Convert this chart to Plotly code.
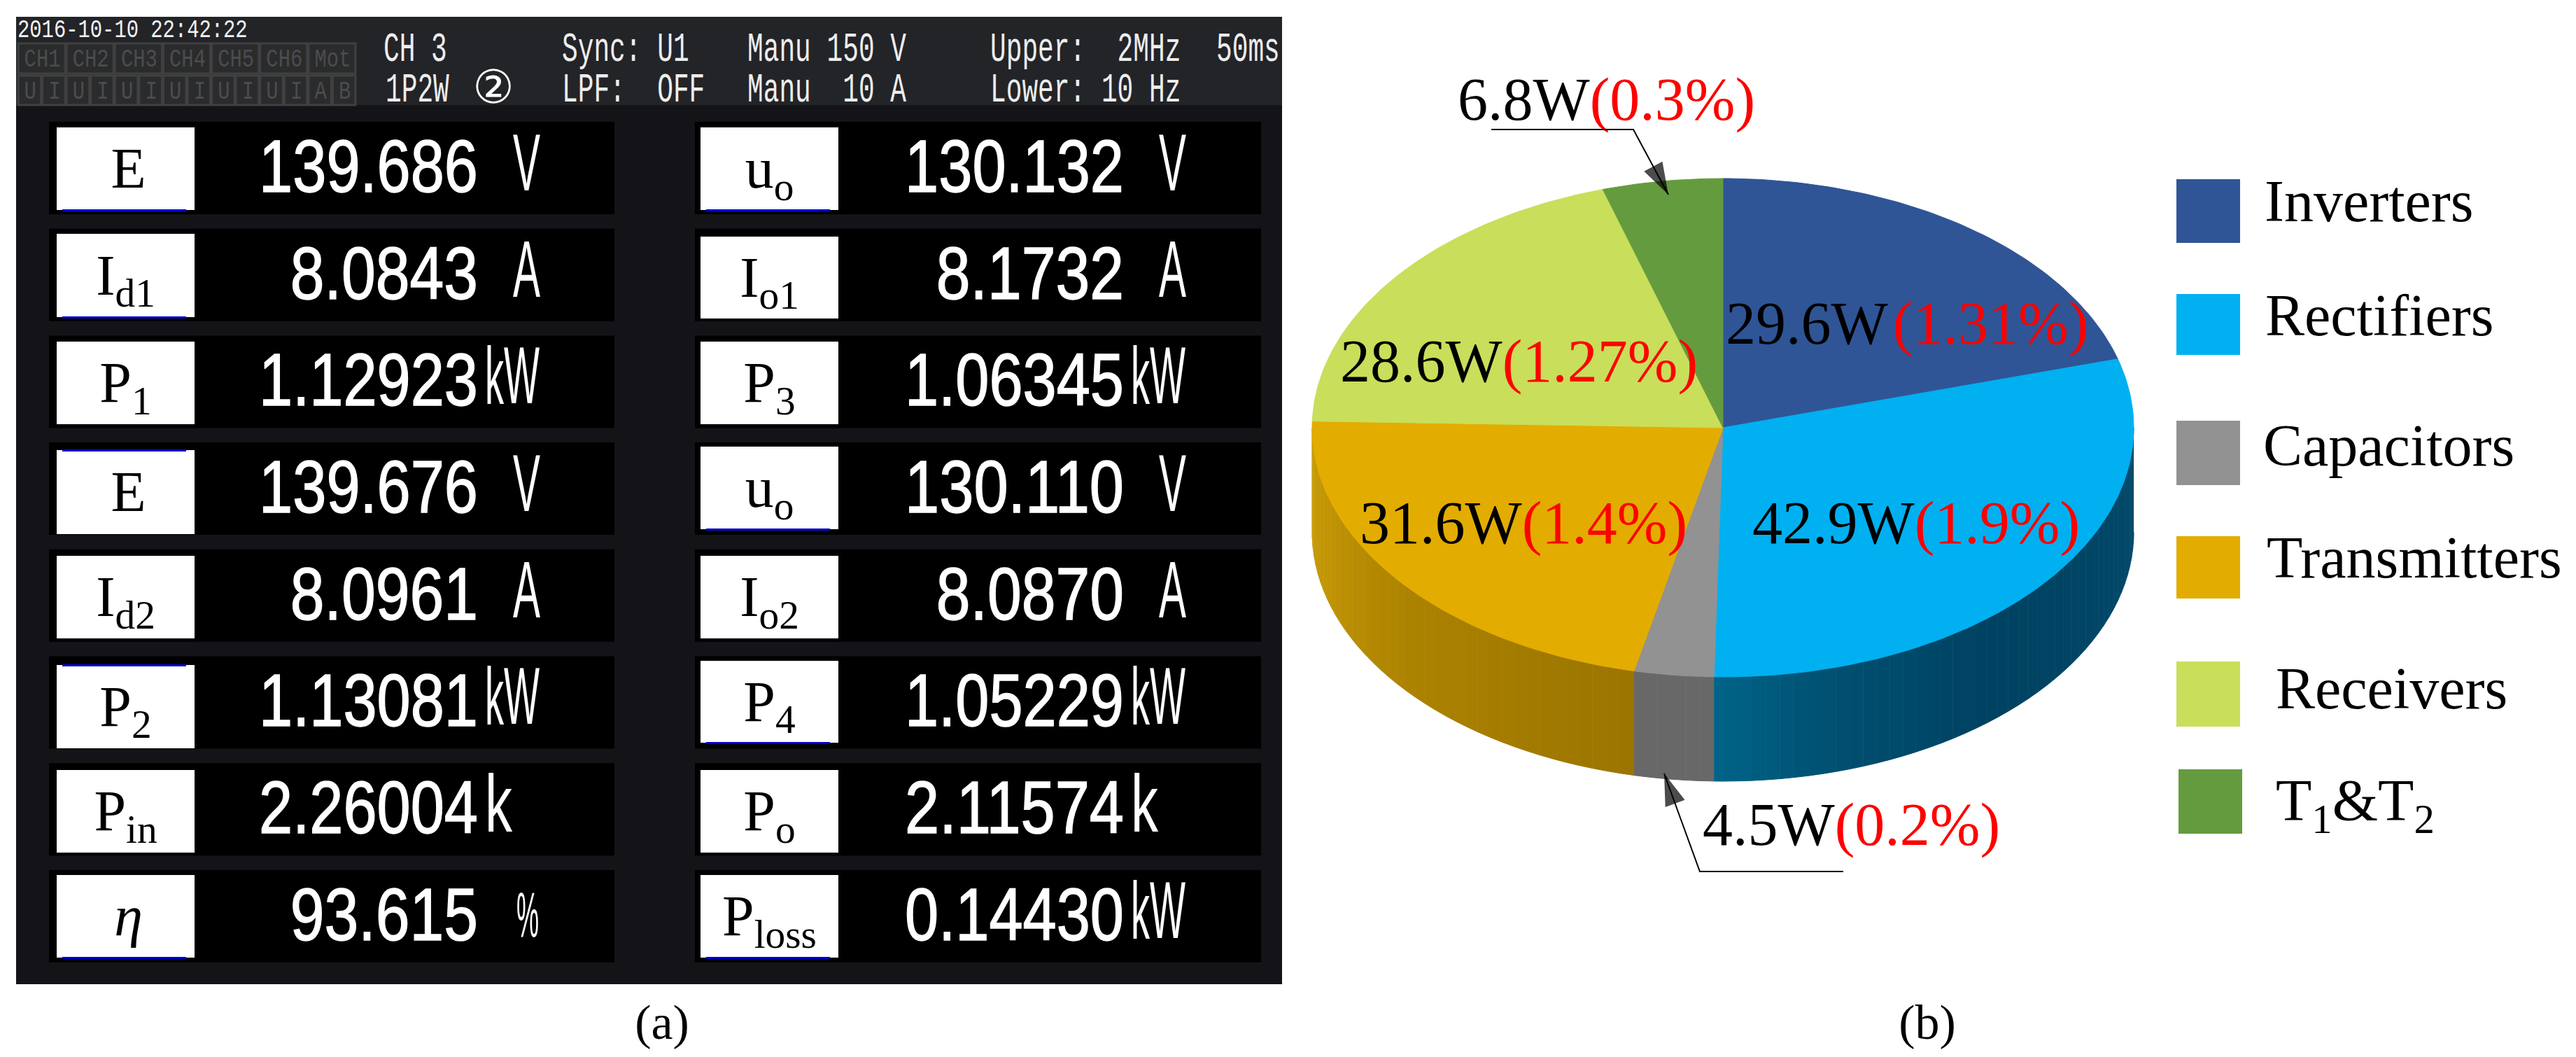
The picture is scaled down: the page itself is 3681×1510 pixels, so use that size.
import json
import numpy as np
import plotly.graph_objects as go

# ---- panel (b) data ----
categories = ["Inverters", "Rectifiers", "Capacitors", "Transmitters", "Receivers", "T<sub>1</sub>&T<sub>2</sub>"]
watts = [29.6, 42.9, 4.5, 31.6, 28.6, 6.8]
percents = ["1.31%", "1.9%", "0.2%", "1.4%", "1.27%", "0.3%"]
top_colors = ["#2F5597", "#00B0F0", "#929292", "#E3AC00", "#C9DE5A", "#659B3F"]

# ---- panel (a) data ----
left_labels = ["E", "I<sub>d1</sub>", "P<sub>1</sub>", "E", "I<sub>d2</sub>", "P<sub>2</sub>", "P<sub>in</sub>", "<i>η</i>"]
left_values = ["139.686", "8.0843", "1.12923", "139.676", "8.0961", "1.13081", "2.26004", "93.615"]
left_units = ["V", "A", "kW", "V", "A", "kW", "k", "%"]
right_labels = ["u<sub>o</sub>", "I<sub>o1</sub>", "P<sub>3</sub>", "u<sub>o</sub>", "I<sub>o2</sub>", "P<sub>4</sub>", "P<sub>o</sub>", "P<sub>loss</sub>"]
right_values = ["130.132", "8.1732", "1.06345", "130.110", "8.0870", "1.05229", "2.11574", "0.14430"]
right_units = ["V", "A", "kW", "V", "A", "kW", "k", "kW"]
header_texts = [
    ("CH 3", 548, 88), ("1P2W", 551, 146), ("Sync: U1", 803, 88), ("LPF:  OFF", 803, 146),
    ("Manu 150 V", 1068, 88), ("Manu  10 A", 1068, 146), ("Upper:  2MHz", 1415, 88),
    ("Lower: 10 Hz", 1415, 146), ("50ms", 1738, 88),
]
timestamp = "2016-10-10 22:42:22"
channel_tabs = ["CH1", "CH2", "CH3", "CH4", "CH5", "CH6", "Mot"]
signal_tabs = ["U", "I", "U", "I", "U", "I", "U", "I", "U", "I", "U", "I", "A", "B"]

W, H = 3681, 1510
SERIF = "Liberation Serif"
SANS = "Liberation Sans"
MONO = "Liberation Mono"
# the instrument's screen font is tall and narrow: advance width per character, by font size
CELL_WIDTH = {SANS: {105: 44.7, 115: 39, 90: 32}, MONO: {60: 22.7, 37: 17.3}}
fig = go.Figure()
shapes = []


def rect(x0, y0, x1, y1, fill, line=None, lw=0):
    shapes.append(dict(type="rect", x0=x0, y0=y0, x1=x1, y1=y1, fillcolor=fill, layer="below",
                       line=dict(color=line or fill, width=lw)))


def text(x, baseline, s, size, color="black", family=SERIF, anchor="left"):
    pos = {"left": "middle right", "right": "middle left", "center": "middle center"}[anchor]
    fig.add_trace(go.Scatter(x=[x], y=[baseline - 0.27 * size], mode="text", text=[s], textposition=pos,
                             textfont=dict(family=family, size=size, color=color),
                             hoverinfo="skip", showlegend=False, cliponaxis=False))


# ---- panel (a) ----
rect(23, 24, 1832, 1406, "#131318")
rect(23, 24, 1832, 150, "#232428")
text(25, 54, timestamp, 37, "#f2f2f2", MONO)
tab_w = (510 - 26) / len(channel_tabs)
for i, t in enumerate(channel_tabs):
    rect(26 + i * tab_w, 62, 26 + (i + 1) * tab_w - 2, 105, "#2a2b2d", "#404040", 3)
    text(26 + (i + 0.5) * tab_w, 96, t, 37, "#4c4c4c", MONO, "center")
tab_w = (510 - 26) / len(signal_tabs)
for i, t in enumerate(signal_tabs):
    rect(26 + i * tab_w, 108, 26 + (i + 1) * tab_w - 2, 150, "#2a2b2d", "#404040", 3)
    text(26 + (i + 0.5) * tab_w, 142, t, 37, "#4c4c4c", MONO, "center")
for s, x, b in header_texts:
    text(x, b, s, 60, "#ededed", MONO)
text(705, 148, "②", 66, "#ffffff", "DejaVu Sans", "center")

PITCH = 152.7
left_boxes = [(182, 300), (334, 453), (488, 606), (643, 763), (794, 912), (950, 1069), (1100, 1218), (1250, 1368)]
right_boxes = [(182, 300), (338, 455), (488, 606), (638, 756), (794, 912), (944, 1061), (1100, 1218), (1250, 1368)]
left_blue = {0: "b", 1: "b", 3: "t", 5: "t", 7: "b"}
right_blue = {0: "b", 3: "b", 5: "b", 7: "b"}
cols = [
    (70, 878, 81, 278, 683, 733, 693, left_labels, left_values, left_units, left_boxes, left_blue),
    (993, 1802, 1001, 1198, 1606, 1656, 1616, right_labels, right_values, right_units, right_boxes, right_blue),
]
for sx0, sx1, bx0, bx1, vx, ux, kx, labs, vals, units, boxes, blue in cols:
    for r in range(8):
        top = 174 + r * PITCH
        rect(sx0, top, sx1, top + 132, "#000000")
        y0, y1 = boxes[r]
        rect(bx0, y0, bx1, y1, "#ffffff")
        if r in blue:
            by = y1 if blue[r] == "b" else y0
            rect(bx0 + 8, by - 1, bx1 - 12, by + 2, "#0000d0")
        lab = labs[r]
        cx = (bx0 + bx1) / 2 + (4 if "sub" not in lab else 0)
        text(cx, (y0 + y1) / 2 + 29, lab, 82, "black", SERIF, "center")
        text(vx, top + 102, vals[r], 105, "#ffffff", SANS, "right")
        u = units[r]
        if u in ("kW", "k"):
            text(kx, top + 99, u, 115, "#ffffff", SANS)
        elif u == "%":
            text(ux + 5, top + 97, u, 90, "#ffffff", SANS)
        else:
            text(ux, top + 100, u, 115, "#ffffff", SANS)

text(946, 1485, "(a)", 70, "black", SERIF, "center")
text(2754, 1485, "(b)", 70, "black", SERIF, "center")

# ---- panel (b): tilted pie built from the values ----
CX, CY, RX, RY, DEPTH = 2462, 611, 587, 356, 149
fractions = np.array(watts) / sum(watts)
edges = np.concatenate([[0], np.cumsum(fractions)]) * 360.0
side_stops = {
    1: ([90, 140, 165, 181], ["#034a6b", "#004262", "#005072", "#006488"]),
    2: ([181, 193], ["#686868", "#686868"]),
    3: ([192, 230, 255, 272], ["#9b7500", "#ad8300", "#c39506", "#c9a00c"]),
}


def hex2rgb(h):
    return [int(h[i:i + 2], 16) for i in (1, 3, 5)]


def arc(a0, a1, n=None):
    n = n or max(2, int(abs(a1 - a0)) + 2)
    t = np.radians(np.linspace(a0, a1, n))
    return CX + RX * np.sin(t), CY - RY * np.cos(t)


for i, (xs, cs) in side_stops.items():
    a0, a1 = max(edges[i], 90), min(edges[i + 1], 270)
    steps = np.arange(a0, a1, 2.0).tolist() + [a1]
    for s0, s1 in zip(steps[:-1], steps[1:]):
        mid = (s0 + s1) / 2
        rgb = [np.interp(mid, xs, [hex2rgb(c)[k] for c in cs]) for k in range(3)]
        col = "rgb(%d,%d,%d)" % tuple(rgb)
        ax, ay = arc(s0, s1, 4)
        fig.add_trace(go.Scatter(x=np.concatenate([ax, ax[::-1]]), y=np.concatenate([ay, ay[::-1] + DEPTH]),
                                 mode="lines", fill="toself", fillcolor=col, line=dict(color=col, width=1),
                                 hoverinfo="skip", showlegend=False))

for i, c in enumerate(top_colors):
    ax, ay = arc(edges[i], edges[i + 1])
    fig.add_trace(go.Scatter(x=np.concatenate([[CX], ax, [CX]]), y=np.concatenate([[CY], ay, [CY]]),
                             mode="lines", fill="toself", fillcolor=c, line=dict(color=c, width=1),
                             name=categories[i], hoverinfo="skip", showlegend=False))

# slice labels: value in black, percentage in red
label_pos = {0: (2466, 493), 1: (2504, 778), 2: (2433, 1209), 3: (1943, 778), 4: (1915, 547), 5: (2083, 173)}
gaps = {0: "\u200a"}
for i, (x, b) in label_pos.items():
    s = f'{watts[i]}W{gaps.get(i, "")}<span style="color:#ff0000">({percents[i]})</span>'
    text(x, b, s, 86)

# leader lines with arrow heads
leaders = [([2131, 2334, 2384], [185, 185, 278]), ([2634, 2429, 2378], [1245, 1245, 1105])]
for lx, ly in leaders:
    fig.add_trace(go.Scatter(x=lx, y=ly, mode="lines+markers", line=dict(color="black", width=2),
                             marker=dict(symbol="arrow", size=[0, 0, 48], color="black", angleref="previous",
                                         line=dict(width=0)),
                             hoverinfo="skip", showlegend=False))

# legend
legend_boxes = [(3110, 256, 347), (3110, 420, 507), (3110, 601, 693), (3110, 766, 855), (3110, 945, 1038), (3113, 1099, 1191)]
legend_text = [(3236, 318), (3237, 481), (3234, 667), (3239, 827), (3252, 1014), (3252, 1174)]
for i, c in enumerate(categories):
    x, y0, y1 = legend_boxes[i]
    rect(x, y0, x + 91, y1, top_colors[i])
    text(legend_text[i][0], legend_text[i][1], c, 84)

fig.update_layout(
    width=W, height=H, margin=dict(l=0, r=0, t=0, b=0), paper_bgcolor="white", plot_bgcolor="white",
    xaxis=dict(range=[0, W], visible=False, fixedrange=True),
    yaxis=dict(range=[H, 0], visible=False, fixedrange=True),
    shapes=shapes, showlegend=False,
)

post = """
document.body.style.margin = '0';
var cells = %s;
function squeeze() {
  document.querySelectorAll('.textpoint text').forEach(function (el) {
    var fam = (el.style.fontFamily || '').replace(/["']/g, '');
    var size = Math.round(parseFloat(el.style.fontSize));
    if (cells[fam] && cells[fam][size]) {
      var x = parseFloat(el.getAttribute('x'));
      var k = el.textContent.length * cells[fam][size] / el.getComputedTextLength();
      el.setAttribute('transform', 'translate(' + x + ',0) scale(' + k + ',1) translate(' + (-x) + ',0)');
      if (size === 105) { el.style.stroke = '#ffffff'; el.style.strokeWidth = '1.5px'; }
    }
  });
}
squeeze();
setTimeout(squeeze, 100);
""" % json.dumps(CELL_WIDTH)
fig.write_html("out.html", post_script=post, config=dict(displayModeBar=False))
